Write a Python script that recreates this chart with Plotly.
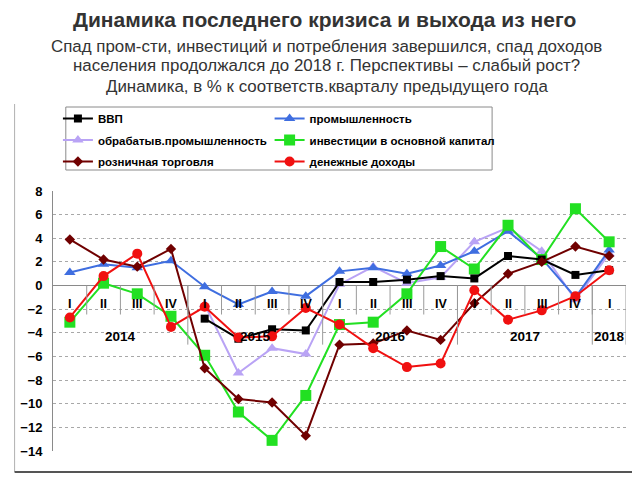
import plotly.graph_objects as go

# ---------------- data ----------------
quarters = ["I", "II", "III", "IV", "I", "II", "III", "IV", "I", "II", "III", "IV",
            "I", "II", "III", "IV", "I"]
years = ["2014", "2015", "2016", "2017", "2018"]
year_sizes = [4, 4, 4, 4, 1]

gdp = [None, None, None, None, -2.8, -4.5, -3.7, -3.8, 0.3, 0.3, 0.5, 0.8,
       0.6, 2.5, 2.2, 0.9, 1.3]
industry = [1.1, 1.8, 1.5, 2.1, -0.1, -1.6, -0.5, -0.9, 1.2, 1.5, 1.0, 1.7,
            2.9, 4.6, 2.3, -1.0, 3.0]
manufacturing = [None, None, None, None, -1.6, -7.4, -5.3, -5.8, 0.1, 1.6, 0.2, 0.7,
                 3.7, 4.9, 2.9, -1.2, 2.7]
investment = [-3.1, 0.2, -0.7, -2.6, -5.9, -10.7, -13.1, -9.3, -3.3, -3.1, -0.7, 3.3,
              1.4, 5.1, 2.2, 6.5, 3.7]
retail = [3.9, 2.2, 1.6, 3.1, -7.0, -9.6, -9.9, -12.7, -5.0, -4.9, -3.8, -4.6,
          -1.5, 1.0, 2.0, 3.3, 2.5]
income = [-2.7, 0.8, 2.7, -3.5, -1.8, -4.4, -4.3, -1.9, -3.3, -5.3, -6.9, -6.6,
          -0.4, -2.9, -2.1, -0.9, 1.3]

names = ["ВВП", "промышленность", "обрабатыв.промышленность",
         "инвестиции в основной капитал", "розничная торговля", "денежные доходы"]

title = "Динамика последнего кризиса и выхода из него"
subtitle = ["Спад пром-сти, инвестиций и потребления завершился, спад доходов",
            "населения продолжался до 2018 г. Перспективы – слабый рост?",
            "Динамика, в % к соответств.кварталу предыдущего года"]

# ---------------- layout helpers ----------------
# the page body has an 8px offset, so the figure is 8px smaller and
# all screen positions are shifted by 8px
OFF = 8
W, H = 640 - OFF, 480 - OFF
L, R, T, B = 44, 626, 191, 451  # plot area in screen pixels


def pxx(x):
    return (x - L) / (R - L)


def pxy(y):
    return (B - y) / (B - T)


xs = list(range(len(quarters)))
FONT = "Liberation Sans, Arial, sans-serif"

fig = go.Figure()

# draw order (bottom -> top); legend column and rank per series
styles = [
    (manufacturing, names[2], "#b9a3f5", "triangle-up", 10, "legend", 2),
    (industry, names[1], "#3f6ee0", "triangle-up", 10, "legend2", 1),
    (investment, names[3], "#22e022", "square", 11, "legend2", 2),
    (gdp, names[0], "#000000", "square", 8, "legend", 1),
    (retail, names[4], "#700000", "diamond", 8, "legend", 3),
    (income, names[5], "#f01010", "circle", 10, "legend2", 3),
]
for vals, nm, col, sym, sz, leg, rank in styles:
    fig.add_trace(go.Scatter(
        x=xs, y=vals, name=nm, mode="lines+markers",
        line=dict(color=col, width=2),
        marker=dict(symbol=sym, size=sz, color=col),
        legend=leg, legendrank=rank, legendgroup=nm, connectgaps=False,
    ))

shapes = []
for i in range(len(quarters) - 1):
    shapes.append(dict(type="line", xref="x", yref="y", x0=i + 0.5, x1=i + 0.5,
                       y0=0, y1=-2.45, line=dict(color="#9a9a9a", width=1)))
pos = -0.5
for s in year_sizes:
    pos += s
    shapes.append(dict(type="line", xref="x", yref="y", x0=pos, x1=pos,
                       y0=0, y1=-5.0, line=dict(color="#9a9a9a", width=1)))
# outer frame
shapes.append(dict(type="line", xref="paper", yref="paper", x0=pxx(5), x1=pxx(5),
                   y0=pxy(104), y1=pxy(472), line=dict(color="#b0b0b0", width=1)))
shapes.append(dict(type="line", xref="paper", yref="paper", x0=pxx(634), x1=pxx(634),
                   y0=pxy(104), y1=pxy(472), line=dict(color="#d0d0d0", width=1)))
shapes.append(dict(type="line", xref="paper", yref="paper", x0=pxx(5), x1=pxx(634),
                   y0=pxy(472), y1=pxy(472), line=dict(color="#555555", width=2)))
# legend box
shapes.append(dict(type="rect", xref="paper", yref="paper", x0=pxx(57), x1=pxx(490),
                   y0=pxy(107), y1=pxy(170), line=dict(color="#8a8a8a", width=1),
                   fillcolor="white", layer="below"))

annotations = []
for i, q in enumerate(quarters):
    annotations.append(dict(x=i, y=-1.6, xref="x", yref="y", text="<b>" + q + "</b>",
                            showarrow=False,
                            font=dict(family=FONT, size=12.5, color="#000"),
                            xanchor="center", yanchor="middle"))
start = 0
for yr, s in zip(years, year_sizes):
    annotations.append(dict(x=start + (s - 1) / 2, y=-4.3, xref="x", yref="y",
                            text="<b>" + yr + "</b>", showarrow=False,
                            font=dict(family=FONT, size=13.5, color="#000"),
                            xanchor="center", yanchor="middle"))
    start += s

annotations.append(dict(x=pxx(320), y=pxy(20), xref="paper", yref="paper",
                        xanchor="center", yanchor="middle", showarrow=False,
                        text="<b>" + title + "</b>",
                        font=dict(family=FONT, size=21, color="#333333")))
for k, line in enumerate(subtitle):
    annotations.append(dict(x=pxx(322), y=pxy(46 + 20 * k), xref="paper", yref="paper",
                            xanchor="center", yanchor="middle", showarrow=False,
                            text=line,
                            font=dict(family=FONT, size=16.9, color="#333333")))

legend_common = dict(orientation="v", xanchor="left", yanchor="top",
                     borderwidth=0, bgcolor="rgba(0,0,0,0)",
                     tracegroupgap=2.5, traceorder="grouped",
                     font=dict(family=FONT, size=11.5, color="#000", weight="bold"))

fig.update_layout(
    width=W, height=H,
    margin=dict(l=L - OFF, r=W - (R - OFF), t=T - OFF, b=H - (B - OFF), pad=0),
    paper_bgcolor="white", plot_bgcolor="white",
    showlegend=True,
    legend=dict(x=pxx(49), y=pxy(104), **legend_common),
    legend2=dict(x=pxx(264), y=pxy(104), **legend_common),
    xaxis=dict(range=[-0.5, len(quarters) - 0.5], showticklabels=False, showgrid=False,
               zeroline=False, showline=False, ticks="", fixedrange=True),
    yaxis=dict(range=[-14, 8], dtick=2, tick0=0, showgrid=True, gridcolor="#a8a8a8",
               griddash="dot", gridwidth=1, zeroline=True, zerolinecolor="#8a8a8a",
               zerolinewidth=1, showline=True, linecolor="#8a8a8a", linewidth=1,
               ticks="", ticklabelstandoff=7,
               tickfont=dict(family=FONT, size=13, color="#000", weight="bold")),
    shapes=shapes,
    annotations=annotations,
)
fig.write_html("out.html")
